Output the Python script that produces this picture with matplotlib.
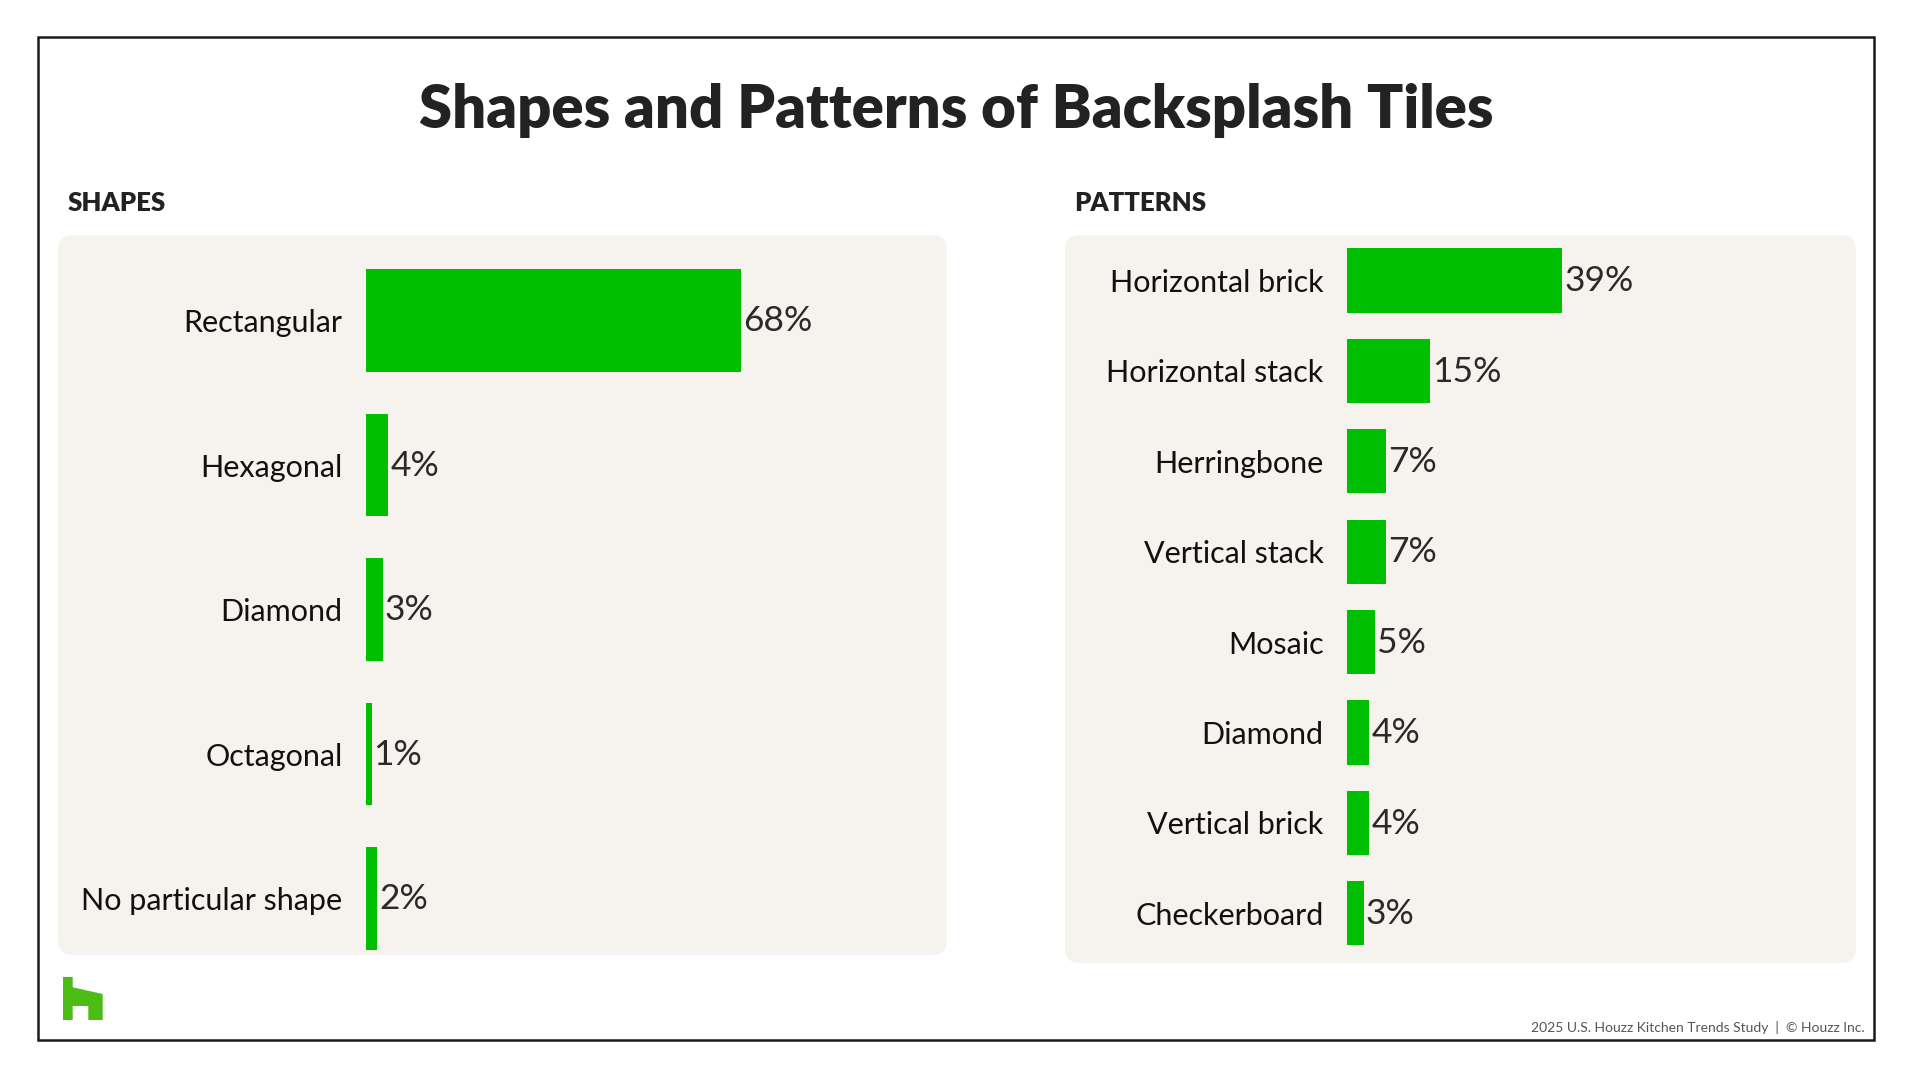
import numpy as np
import matplotlib.pyplot as plt
from matplotlib.patches import FancyBboxPatch, Rectangle, Polygon

plt.rcParams['font.family'] = ['Lato', 'DejaVu Sans']

shape_labels = ['Rectangular', 'Hexagonal', 'Diamond', 'Octagonal', 'No particular shape']
shape_values = [68, 4, 3, 1, 2]

pattern_labels = ['Horizontal brick', 'Horizontal stack', 'Herringbone', 'Vertical stack',
                  'Mosaic', 'Diamond', 'Vertical brick', 'Checkerboard']
pattern_values = [39, 15, 7, 7, 5, 4, 4, 3]

W, H = 1912, 1078
green = '#00BE00'
panel_bg = '#F6F3EF'
px_per_pct = 5.52

fig = plt.figure(figsize=(W / 100, H / 100), dpi=100)
fig.patch.set_facecolor('white')


def fx(px):
    return px / W


def fy(px):
    return 1 - px / H


# outer frame
fig.patches.append(Rectangle((fx(38), fy(1040)), fx(1874 - 38), (1040 - 37) / H,
                             transform=fig.transFigure, fill=False, lw=1.8, ec='#1a1a1a'))

# grey panels behind the bars
for x0, x1, y0, y1 in [(58, 947, 235, 955), (1065, 1856, 235, 963)]:
    fig.patches.append(FancyBboxPatch((fx(x0), fy(y1)), fx(x1 - x0), (y1 - y0) / H,
                                      boxstyle='round,pad=0,rounding_size=0.008',
                                      transform=fig.transFigure, fc=panel_bg, ec='none',
                                      zorder=0, mutation_aspect=W / H))

fig.text(0.5, fy(110), 'Shapes and Patterns of Backsplash Tiles', ha='center', va='center',
         fontsize=43, fontweight='heavy', color='#222222')
fig.text(fx(68), fy(203), 'SHAPES', ha='left', va='center', fontsize=18.5,
         fontweight='heavy', color='#222222')
fig.text(fx(1074), fy(203), 'PATTERNS', ha='left', va='center', fontsize=18.5,
         fontweight='heavy', color='#222222')


def bar_panel(labels, values, x0, x1, y_first, spacing):
    n = len(labels)
    top = y_first - spacing / 2
    bottom = y_first + spacing * (n - 0.5)
    ax = fig.add_axes([fx(x0), fy(bottom), fx(x1 - x0), (bottom - top) / H])
    ax.set_zorder(2)
    ax.set_facecolor('none')
    y = np.arange(n)
    ax.barh(y, values, height=0.71, color=green)
    ax.set_xlim(0, (x1 - x0) / px_per_pct)
    ax.set_ylim(n - 0.5, -0.5)
    ax.set_yticks(y)
    ax.set_yticklabels(labels, fontsize=22, color='#111111')
    ax.tick_params(axis='y', length=0, pad=17)
    ax.set_xticks([])
    for s in ax.spines.values():
        s.set_visible(False)
    for i, v in enumerate(values):
        ax.annotate(f'{v}%', (v, i), xytext=(1.5, -0.5), textcoords='offset points',
                    ha='left', va='center', fontsize=25.5, color='#2a2a2a')
    return ax


bar_panel(shape_labels, shape_values, 366, 947, 320.7, 144.5)
bar_panel(pattern_labels, pattern_values, 1347, 1856, 280.5, 90.4)

# houzz logo
logo = [(63, 977), (72.7, 977), (72.7, 987.3), (102.7, 994), (102.7, 1020), (88.3, 1020),
        (88.3, 1006), (72.7, 1006), (72.7, 1020), (63, 1020)]
fig.patches.append(Polygon([(fx(a), fy(b)) for a, b in logo], closed=True,
                           transform=fig.transFigure, fc='#4DBC15', ec='none'))

fig.text(fx(1865), fy(1027), '2025 U.S. Houzz Kitchen Trends Study  |  \u00a9 Houzz Inc.',
         ha='right', va='center', fontsize=10, color='#555555')

fig.savefig('out.png', dpi=100)
